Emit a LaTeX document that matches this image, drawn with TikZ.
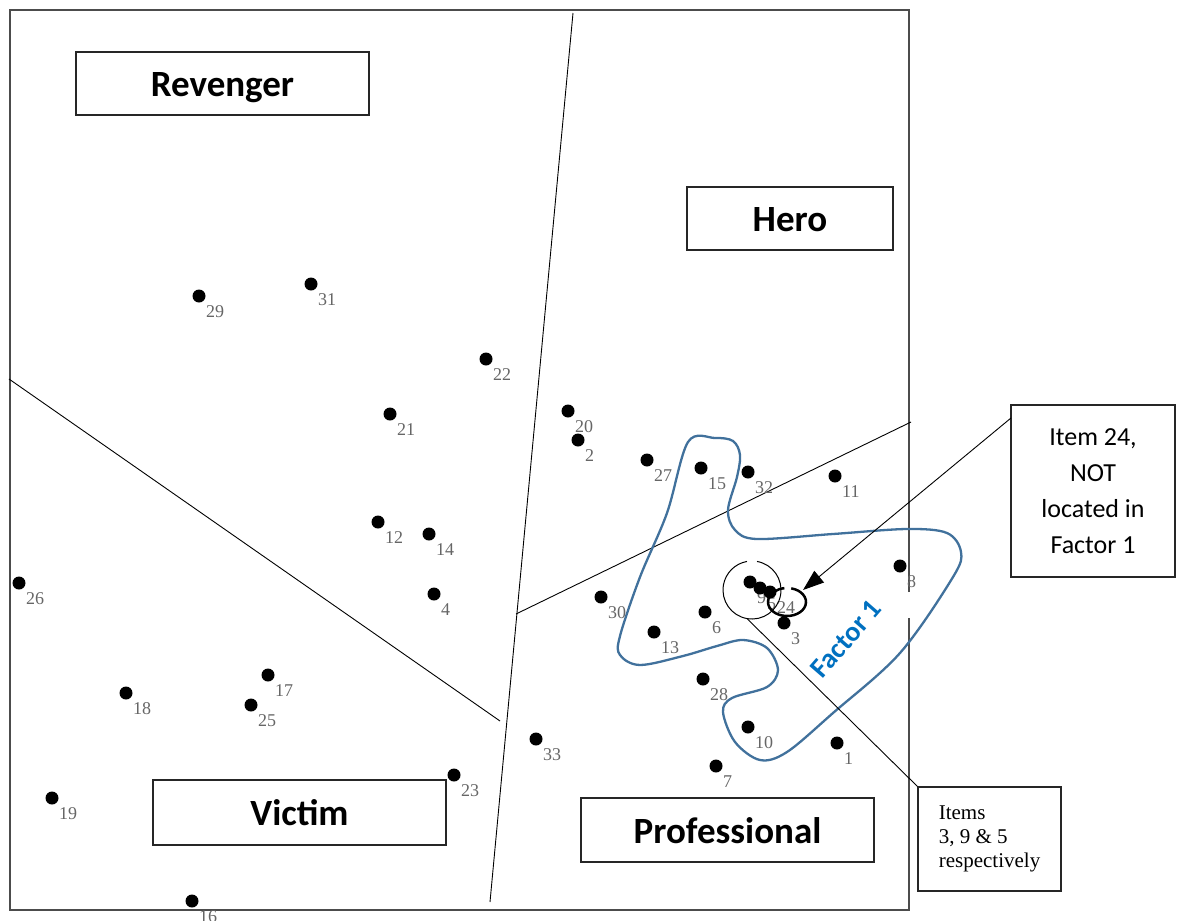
\documentclass[tikz,border=0pt]{standalone}
\usepackage{fontspec}
\newfontfamily\boxfont{Carlito}
\newfontfamily\numfont{Liberation Serif}
\usetikzlibrary{arrows.meta}
\definecolor{blobblue}{HTML}{41719C}
\definecolor{factorblue}{HTML}{0070C0}
\begin{document}
\begin{tikzpicture}[x=1pt,y=-1pt,
  dot/.style={circle,fill=black,inner sep=0pt,minimum size=13pt},
  numlabel/.style={anchor=base west,inner sep=0pt,text=black!60,font=\numfont\fontsize{18}{20}\selectfont},
  typebox/.style={draw=black!85,line width=1.3pt,minimum width=293pt,minimum height=63pt,inner sep=0pt,
    text height=30pt,text depth=4pt,font=\boxfont\bfseries\fontsize{37}{44}\selectfont},
  note/.style={draw=black!85,line width=1.1pt,inner sep=0pt},
  sep/.style={line width=0.9pt,black}]
\useasboundingbox (0,0) rectangle (1181,921);

% plot frame, open on the right where the factor outline crosses it
\draw[black!70,line width=2.2pt] (909,592) -- (909,10) -- (10,10) -- (10,910) -- (909,910) -- (909,618);

% quadrant separators
\coordinate (vtop) at (573,13);
\coordinate (vbot) at (490,902);
\coordinate (lft) at (9,379);
\coordinate (lmid) at (500,721);
\coordinate (rmid) at (516,614);
\coordinate (rgt) at (911,422);
\draw[sep] (vtop) -- (vbot);
\draw[sep] (lft) -- (lmid);
\draw[sep] (rmid) -- (rgt);

% factor 1 outline
\draw[blobblue,line width=2.3pt] plot[smooth cycle,tension=0.55] coordinates{
  (688,442) (715,438) (733,441) (740,455) (737,477) (728,510) (735,530) (757,539)
  (833,534) (907,529) (947,533) (961,552) (953,577) (900,653) (833,713) (787,752)
  (760,760) (735,742) (723,712) (732,698) (767,687) (778,670) (767,648) (743,640)
  (717,646) (683,656) (640,665) (620,655) (620,636) (640,577) (667,513)};

% item numbers, then the item dots over them
\foreach \n/\x/\y in {29/199/296, 31/311/284, 22/486/359, 21/390/414, 20/568/411, 2/578/440,
  27/647/460, 15/701/468, 32/748/472, 11/835/476, 12/378/522, 14/429/534, 26/19/583,
  4/434/594, 30/601/597, 6/705/612, 13/654/632, 3/784/623, 8/900/566, 17/268/675,
  18/126/693, 25/251/705, 28/703/679, 10/748/727, 1/837/743, 33/536/739, 23/454/775,
  7/716/766, 19/52/798, 16/192/901, 9/750/582, 5/760/588, 24/770/592}
  {\node[numlabel] (l\n) at (\x+7,\y+21) {\n};}
\foreach \n/\x/\y in {29/199/296, 31/311/284, 22/486/359, 21/390/414, 20/568/411, 2/578/440,
  27/647/460, 15/701/468, 32/748/472, 11/835/476, 12/378/522, 14/429/534, 26/19/583,
  4/434/594, 30/601/597, 6/705/612, 13/654/632, 3/784/623, 8/900/566, 17/268/675,
  18/126/693, 25/251/705, 28/703/679, 10/748/727, 1/837/743, 33/536/739, 23/454/775,
  7/716/766, 19/52/798, 16/192/901, 9/750/582, 5/760/588, 24/770/592}
  {\node[dot] (p\n) at (\x,\y) {};}

% type boxes
\node[typebox] (revenger) at (222.5,83.5) {Revenger};
\node[typebox,minimum width=206pt] (hero) at (790,218.5) {Hero};
\node[typebox,minimum height=65pt] (victim) at (299.5,812.5) {Victim};
\node[typebox,minimum height=64pt] (professional) at (727.5,830) {Professional};

\node[rotate=49,text=factorblue,font=\boxfont\bfseries\fontsize{28}{34}\selectfont] (f1) at (846,639) {Factor 1};

% circled items
\coordinate (cc) at (752,590);
\draw[line width=1pt] (cc) ++(280:29) arc[start angle=280,end angle=620,radius=29];
\coordinate (ec) at (787,602);
\draw[line width=2.5pt] (ec) ++(283:19 and 14) arc[start angle=283,end angle=622,x radius=19,y radius=14];

% notes
\node[note,minimum width=164pt,minimum height=172pt,align=center,
  font=\boxfont\fontsize{26}{36}\selectfont] (note24) at (1093,491) {Item 24,\\NOT\\located in\\Factor 1};
\node[note,minimum width=143pt,minimum height=104pt,align=left,
  font=\numfont\fontsize{21}{24}\selectfont] (items) at (989.5,839) {Items\\3, 9 \& 5\\respectively};

\coordinate (arrtail) at (1011,418);
\coordinate (arrtip) at (803,590);
\draw[line width=0.9pt,-{Triangle[length=21pt,width=15pt]}] (arrtail) -- (arrtip);
\path (cc) ++(100:29) coordinate (cbot);
\draw[line width=0.9pt] (cbot) -- (items.north west);
\end{tikzpicture}
\end{document}
